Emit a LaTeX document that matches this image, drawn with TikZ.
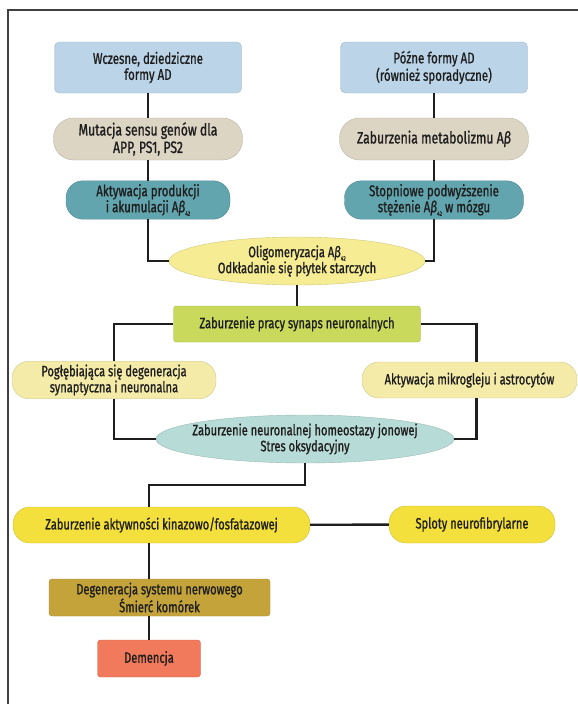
\documentclass[tikz,border=0pt]{standalone}
\usepackage{fontspec}
\setmainfont{Fira Sans}[FakeStretch=0.74, FakeBold=1.0]
\usetikzlibrary{shapes.geometric, positioning}
\definecolor{formblue}{HTML}{BBD4E8}
\definecolor{genbeige}{HTML}{DDD5C3}
\definecolor{tealpill}{HTML}{62A5AE}
\definecolor{oligoyellow}{HTML}{F6EC94}
\definecolor{synapgreen}{HTML}{C8D95B}
\definecolor{paleyellow}{HTML}{F4EBA9}
\definecolor{paleteal}{HTML}{B7DBD6}
\definecolor{kinyellow}{HTML}{F4E03C}
\definecolor{oliveboxc}{HTML}{C4A43A}
\definecolor{coralbox}{HTML}{F27A5C}
\definecolor{inkc}{HTML}{1E1E1E}
\newcommand{\Abeta}[1]{A\textit{β}\raisebox{-0.45ex}{\fontsize{6.5}{6.5}\selectfont #1}}

\begin{document}
\begin{tikzpicture}[x=1pt, y=-1pt,
  origin/.style={fill=formblue, draw=formblue!85!black, line width=0.4pt, rounded corners=5pt, minimum width=187pt, minimum height=51pt, align=center, text=inkc, font=\fontsize{15.5}{16}\selectfont},
  gene/.style={fill=genbeige, draw=genbeige!85!black, line width=0.4pt, rounded corners=20pt, minimum width=189pt, minimum height=42pt, align=center, text=inkc, font=\fontsize{16.5}{17.5}\selectfont},
  prodpill/.style={fill=tealpill, draw=tealpill!85!black, line width=0.4pt, rounded corners=17pt, minimum height=36pt, align=center, text=inkc, font=\fontsize{15.5}{16}\selectfont},
  oval/.style={ellipse, draw=#1!85!black, fill=#1, line width=0.4pt, inner xsep=-12pt, inner ysep=0pt, align=center, text=inkc, font=\fontsize{15}{16}\selectfont},
  flatbox/.style={fill=#1, draw=#1!85!black, line width=0.4pt, rounded corners=3pt, minimum height=36pt, align=center, text=inkc, font=\fontsize{15}{16}\selectfont},
  pill/.style={fill=#1, draw=#1!85!black, line width=0.4pt, rounded corners=17pt, minimum height=36pt, align=center, text=inkc, font=\fontsize{15}{16}\selectfont},
  link/.style={line width=2.4pt, draw=inkc}
]
\useasboundingbox (0,0) rectangle (578,704);
% frame
\draw[line width=1.1pt, draw=black!75] (8,704) -- (8,10) -- (578,10);

% two starting forms
\node[origin] (early) at (148,67.5) {Wczesne, dziedziczne\\formy AD};
\node[origin] (late) at (434,67.5) {Późne formy AD\\(również sporadyczne)};
\node[gene] (mut) at (148,139) {Mutacja sensu genów dla\\APP, PS1, PS2};
\node[gene] (metab) at (434,139) {Zaburzenia metabolizmu \Abeta{}};
\node[prodpill, minimum width=164pt] (prod) at (148,200) {Aktywacja produkcji\\i akumulacji \Abeta{42}};
\node[prodpill, minimum width=179pt] (conc) at (434,200) {Stopniowe podwyższenie\\stężenie \Abeta{42} w mózgu};

% middle part
\node[oval=oligoyellow, minimum width=256pt, minimum height=48pt] (oligo) at (297,261) {Oligomeryzacja \Abeta{42}\\Odkładanie się płytek starczych};
\node[flatbox=synapgreen, minimum width=247pt] (syn) at (297,324) {Zaburzenie pracy synaps neuronalnych};
\node[pill=paleyellow, minimum width=204pt] (deg) at (114,380) {Pogłębiająca się degeneracja\\synaptyczna i neuronalna};
\node[pill=paleyellow, minimum width=215pt] (glia) at (469.5,380) {Aktywacja mikrogleju i astrocytów};
\node[oval=paleteal, minimum width=298pt, minimum height=48pt] (homeo) at (305,439) {Zaburzenie neuronalnej homeostazy jonowej\\Stres oksydacyjny};

% bottom part
\node[pill=kinyellow, minimum width=297pt] (kin) at (161.5,525) {Zaburzenie aktywności kinazowo/fosfatazowej};
\node[pill=kinyellow, minimum width=166pt, minimum height=37pt] (tang) at (472,524.5) {Sploty neurofibrylarne};
\node[flatbox=oliveboxc, minimum width=221pt, minimum height=37pt] (neuro) at (159.5,597.5) {Degeneracja systemu nerwowego\\Śmierć komórek};
\node[flatbox=coralbox, minimum width=103pt, minimum height=37pt] (dem) at (149,658.5) {Demencja};

\draw[link] (early) -- (mut);
\draw[link] (mut) -- (prod);
\draw[link] (late) -- (metab);
\draw[link] (metab) -- (conc);
\draw[link] (prod.south) |- (oligo.west);
\draw[link] (conc.south) |- (oligo.east);
\draw[link] (oligo) -- (syn);
\draw[link] (syn.west) -| (deg.north);
\draw[link] (syn.east) -| ([xshift=7pt]glia.north);
\draw[link] (deg.south) |- (homeo.west);
\draw[link] ([xshift=7pt]glia.south) |- (homeo.east);
\draw[link] (homeo.south) -- ++(0,22) -| (kin.north -| dem.north);
\draw[link] (kin) -- (tang);
\draw[link] (kin.south -| dem.north) -- (neuro.north -| dem.north);
\draw[link] (neuro.south -| dem.north) -- (dem);
\end{tikzpicture}
\end{document}
